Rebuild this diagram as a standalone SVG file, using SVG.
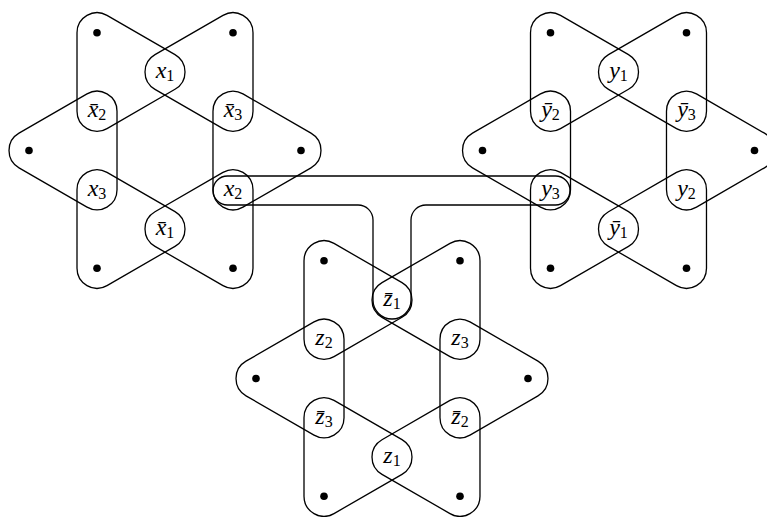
<svg xmlns="http://www.w3.org/2000/svg" xmlns:xlink="http://www.w3.org/1999/xlink" width="767" height="517" viewBox="0 0 767 517">
<style>
.e{fill:none;stroke:#000;stroke-width:1.3;stroke-linejoin:round}
.d{fill:#000}
.l{font-family:"Liberation Serif","DejaVu Serif",serif;font-size:24px;fill:#000;text-anchor:middle}
.v{font-style:italic}
.s{font-size:16px}
</style>
<defs>
<path id="tri" class="e" d="M58,-135.09 L-10,-95.82 A20,20 0 0 0 -10,-61.18 L58,-21.93 A20,20 0 0 0 88,-39.25 L88,-117.77 A20,20 0 0 0 58,-135.09 Z"/>
<g id="edges">
<use href="#tri" xlink:href="#tri"/>
<use href="#tri" xlink:href="#tri" transform="rotate(60)"/>
<use href="#tri" xlink:href="#tri" transform="rotate(120)"/>
<use href="#tri" xlink:href="#tri" transform="rotate(180)"/>
<use href="#tri" xlink:href="#tri" transform="rotate(240)"/>
<use href="#tri" xlink:href="#tri" transform="rotate(300)"/>
</g>
<g id="dots">
<circle class="d" cx="68" cy="-117.77" r="3.8"/>
<circle class="d" cx="136" cy="0" r="3.8"/>
<circle class="d" cx="68" cy="117.77" r="3.8"/>
<circle class="d" cx="-68" cy="117.77" r="3.8"/>
<circle class="d" cx="-136" cy="0" r="3.8"/>
<circle class="d" cx="-68" cy="-117.77" r="3.8"/>
</g>
</defs>

<g id="connectors">
<path id="link-x2-y3-z1" class="e" d="M227.5,176 H555.5 A14.5,14.5 0 0 1 555.5,205 H426 A15,15 0 0 0 411,220 V300 A19,19 0 0 1 373,300 V220 A15,15 0 0 0 358,205 H227.5 A14.5,14.5 0 0 1 227.5,176 Z"/>
</g>

<g id="gadget-x" transform="translate(165,150.5)">
<use href="#edges" xlink:href="#edges"/>
<use href="#dots" xlink:href="#dots"/>
<g id="x1"><text class="l" x="0" y="-72.5"><tspan class="v">x</tspan><tspan class="s" dy="3">1</tspan></text></g>
<g id="nx3"><text class="l" x="68" y="-33.25"><tspan class="v">x̄</tspan><tspan class="s" dy="3">3</tspan></text></g>
<g id="x2"><text class="l" x="68" y="45.25"><tspan class="v">x</tspan><tspan class="s" dy="3">2</tspan></text></g>
<g id="nx1"><text class="l" x="0" y="84.5"><tspan class="v">x̄</tspan><tspan class="s" dy="3">1</tspan></text></g>
<g id="x3"><text class="l" x="-68" y="45.25"><tspan class="v">x</tspan><tspan class="s" dy="3">3</tspan></text></g>
<g id="nx2"><text class="l" x="-68" y="-33.25"><tspan class="v">x̄</tspan><tspan class="s" dy="3">2</tspan></text></g>
</g>

<g id="gadget-y" transform="translate(618.5,150.5)">
<use href="#edges" xlink:href="#edges"/>
<use href="#dots" xlink:href="#dots"/>
<g id="y1"><text class="l" x="0" y="-72.5"><tspan class="v">y</tspan><tspan class="s" dy="3">1</tspan></text></g>
<g id="ny3"><text class="l" x="68" y="-33.25"><tspan class="v">ȳ</tspan><tspan class="s" dy="3">3</tspan></text></g>
<g id="y2"><text class="l" x="68" y="45.25"><tspan class="v">y</tspan><tspan class="s" dy="3">2</tspan></text></g>
<g id="ny1"><text class="l" x="0" y="84.5"><tspan class="v">ȳ</tspan><tspan class="s" dy="3">1</tspan></text></g>
<g id="y3"><text class="l" x="-68" y="45.25"><tspan class="v">y</tspan><tspan class="s" dy="3">3</tspan></text></g>
<g id="ny2"><text class="l" x="-68" y="-33.25"><tspan class="v">ȳ</tspan><tspan class="s" dy="3">2</tspan></text></g>
</g>

<g id="gadget-z" transform="translate(392,378.5)">
<use href="#edges" xlink:href="#edges"/>
<use href="#dots" xlink:href="#dots"/>
<g id="nz1"><text class="l" x="0" y="-72.5"><tspan class="v">z̄</tspan><tspan class="s" dy="3">1</tspan></text></g>
<g id="z3"><text class="l" x="68" y="-33.25"><tspan class="v">z</tspan><tspan class="s" dy="3">3</tspan></text></g>
<g id="nz2"><text class="l" x="68" y="45.25"><tspan class="v">z̄</tspan><tspan class="s" dy="3">2</tspan></text></g>
<g id="z1"><text class="l" x="0" y="84.5"><tspan class="v">z</tspan><tspan class="s" dy="3">1</tspan></text></g>
<g id="nz3"><text class="l" x="-68" y="45.25"><tspan class="v">z̄</tspan><tspan class="s" dy="3">3</tspan></text></g>
<g id="z2"><text class="l" x="-68" y="-33.25"><tspan class="v">z</tspan><tspan class="s" dy="3">2</tspan></text></g>
</g>
</svg>
